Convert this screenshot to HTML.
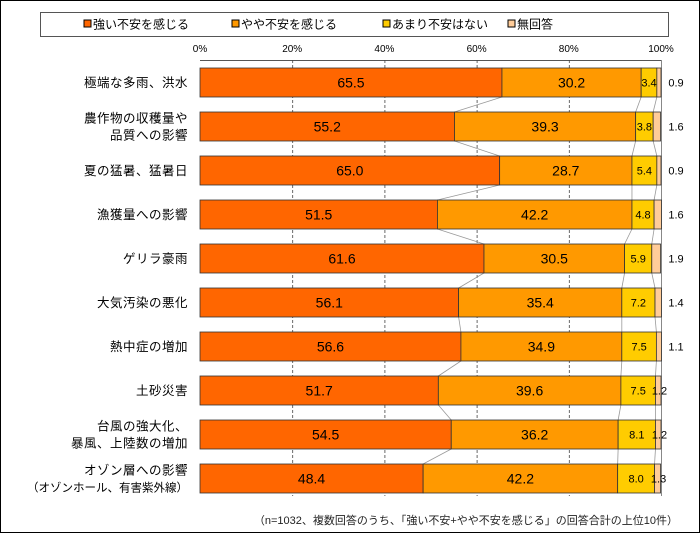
<!DOCTYPE html>
<html><head><meta charset="utf-8"><style>
body{margin:0;background:#fff;}
svg text{font-family:"Liberation Sans","Noto Sans CJK JP",sans-serif;}
</style></head><body>
<svg id="chart" width="700" height="533" xmlns="http://www.w3.org/2000/svg">
<rect x="0.5" y="0.5" width="699" height="532" fill="#fff" stroke="#000"/>
<g>
<rect x="40.5" y="12.5" width="628" height="24" fill="#fff" stroke="#555"/>
</g>
<g id="grid"></g>
<g id="bars"></g>
<text x="678" y="524" font-size="11" text-anchor="end" fill="#222">（n=1032、複数回答のうち、「強い不安+やや不安を感じる」の回答合計の上位10件）</text>
</svg>
<script>
const categories=[["極端な多雨、洪水"],["農作物の収穫量や","品質への影響"],["夏の猛暑、猛暑日"],["漁獲量への影響"],["ゲリラ豪雨"],["大気汚染の悪化"],["熱中症の増加"],["土砂災害"],["台風の強大化、","暴風、上陸数の増加"],["オゾン層への影響","（オゾンホール、有害紫外線）"]];
const strong=[65.5,55.2,65.0,51.5,61.6,56.1,56.6,51.7,54.5,48.4];
const some=[30.2,39.3,28.7,42.2,30.5,35.4,34.9,39.6,36.2,42.2];
const notMuch=[3.4,3.8,5.4,4.8,5.9,7.2,7.5,7.5,8.1,8.0];
const noAns=[0.9,1.6,0.9,1.6,1.9,1.4,1.1,1.2,1.2,1.3];
const seriesNames=["強い不安を感じる","やや不安を感じる","あまり不安はない","無回答"];
const colors=["#ff6600","#ff9900","#ffcc00","#ffcc99"];
const ticks=[0,20,40,60,80,100];
const NS="http://www.w3.org/2000/svg";
const X0=200,X1=661,TOP=60,BOT=496,ROW0=82.5,STEP=44,BH=29;
const x=v=>X0+(X1-X0)*v/100;
const y=i=>ROW0+STEP*i;
function mk(tag,attrs,parent,txt){const e=document.createElementNS(NS,tag);for(const k in attrs)e.setAttribute(k,attrs[k]);if(txt!=null)e.textContent=txt;parent.appendChild(e);return e;}
const svg=document.getElementById('chart');
const grid=document.getElementById('grid');
const bars=document.getElementById('bars');
const lx=[84,232,383,508];
seriesNames.forEach((n,k)=>{
 const r=mk('rect',{x:lx[k],y:20,width:7,height:7,fill:colors[k],stroke:'#000','stroke-width':1},svg);
 
 
 const t=mk('text',{x:lx[k]+9,y:28.5,'font-size':12,fill:'#000'},svg,n);
 
 
});
mk('line',{x1:X0,y1:TOP+0.5,x2:X1,y2:TOP+0.5,stroke:'#555'},grid);
mk('line',{x1:X1+0.5,y1:TOP,x2:X1+0.5,y2:BOT,stroke:'#888'},grid);
ticks.forEach(t=>{
 const lb=mk('text',{x:x(t),y:52,'font-size':10,'text-anchor':'middle',fill:'#000'},grid,t+'%');
 
 
 if(t>0&&t<100){const gl=mk('line',{x1:x(t)+0.5,y1:TOP,x2:x(t)+0.5,y2:BOT,stroke:'#444','stroke-dasharray':'3,2','stroke-width':0.8},grid);
 
 }
});
for(let i=0;i<categories.length-1;i++){
 let c1=0,c2=0;[strong,some,notMuch].forEach(s=>{c1+=s[i];c2+=s[i+1];
  mk('line',{x1:x(c1),y1:y(i)+BH/2,x2:x(c2),y2:y(i+1)-BH/2,stroke:'#999','stroke-width':0.8},bars);});
}
categories.forEach((c,i)=>{
 const cy=y(i);
 const g=mk('g',{},bars);
 
 
 const vals=[strong[i],some[i],notMuch[i],noAns[i]];
 let cum=0;
 vals.forEach((v,k)=>{
  const r=mk('rect',{x:x(cum),y:cy-BH/2,width:x(cum+v)-x(cum),height:BH,fill:colors[k],stroke:'#333','stroke-width':0.8},g);
  
  
  let tx=x(cum+v/2),fs=14,anchor='middle';
  if(k>=2){fs=11;}
  if(k==3){ if(i<7){tx=x(100)+15;} else {tx=x(cum)+4;} }
  const t=mk('text',{x:tx,y:cy+(k<2?5:4),'font-size':fs,'text-anchor':anchor,fill:'#000'},g,v.toFixed(1));
  
  
  cum+=v;
 });
 c.forEach((ln,j)=>{
  const long=ln.length>12;
  const t=mk('text',{x:188,y:cy+4.5+(j-(c.length-1)/2)*17,'font-size':long?11.5:12.5,'letter-spacing':long?'0':'0.5','text-anchor':'end',fill:'#000'},g,ln);
  
  
 });
});
</script>
</body></html>
